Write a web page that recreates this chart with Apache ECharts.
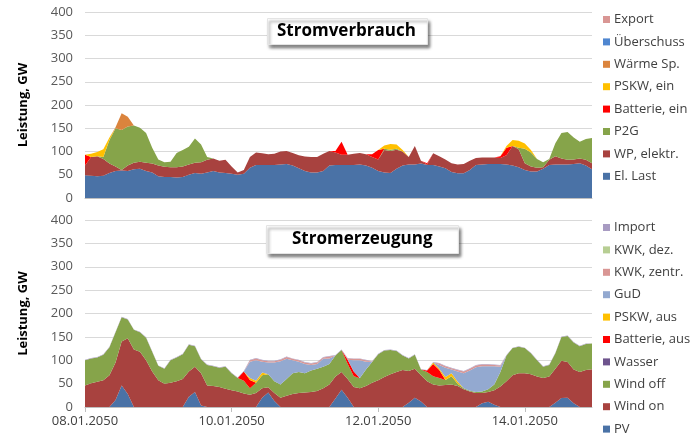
<!DOCTYPE html>
<html lang="de" style="height: 100%">
  <head>
    <meta charset="utf-8" />
    <title>Stromverbrauch / Stromerzeugung</title>
  </head>
  <body style="height: 100%; margin: 0">
    <div id="container" style="width: 700px; height: 443px"></div>

    <script
      type="text/javascript"
      src="https://cdn.jsdelivr.net/npm/echarts@6/dist/echarts.min.js"
    ></script>

    <script type="text/javascript">
      // hours since 08.01.2050 00:00, every 2 h
      var hours = [
        0, 2, 4, 6, 8, 10, 12, 14, 16, 18, 20, 22, 24, 26, 28, 30, 32, 34, 36, 38,
        40, 42, 44, 46, 48, 50, 52, 54, 56, 58, 60, 62, 64, 66, 68, 70, 72, 74, 76, 78,
        80, 82, 84, 86, 88, 90, 92, 94, 96, 98, 100, 102, 104, 106, 108, 110, 112, 114, 116, 118,
        120, 122, 124, 126, 128, 130, 132, 134, 136, 138, 140, 142, 144, 146, 148, 150, 152, 154, 156, 158,
        160, 162, 164, 166
      ];
      var dayLabels = ["08.01.2050", "10.01.2050", "12.01.2050", "14.01.2050"];

      // Stromverbrauch (GW)
      var elLast = [
        49, 48, 47, 48, 54, 58, 59, 58, 62, 63,
        58, 55, 47, 45, 45, 44, 45, 50, 54, 52,
        55, 58, 55, 54, 52, 50, 52, 65, 71, 71,
        71, 71, 72, 73, 70, 64, 58, 55, 55, 58,
        70, 71, 71, 71, 71, 72, 70, 65, 58, 55,
        54, 63, 70, 72, 72, 74, 71, 71, 68, 64,
        56, 53, 53, 60, 71, 72, 73, 73, 73, 72,
        70, 66, 60, 57, 57, 63, 71, 72, 72, 72,
        73, 75, 70, 62
      ];
      var wpElektr = [
        21, 40, 43, 36, 20, 10, 1, 12, 14, 15,
        18, 19, 23, 22, 21, 22, 23, 22, 22, 25,
        27, 27, 25, 28, 16, 5, 8, 23, 27, 25,
        23, 24, 28, 28, 27, 28, 31, 33, 33, 37,
        31, 27, 22, 22, 24, 25, 24, 23, 25, 48,
        47, 41, 30, 16, 40, 6, 1, 25, 22, 19,
        19, 19, 20, 20, 15, 15, 14, 14, 13, 20,
        42, 39, 15, 11, 8, 3, 11, 18, 13, 10,
        10, 10, 12, 13
      ];
      var p2g = [
        0, 0, 0, 4, 51, 82, 86, 84, 80, 73,
        64, 34, 13, 10, 12, 31, 35, 38, 52, 38,
        6, 0, 0, 0, 0, 0, 0, 0, 0, 0,
        0, 0, 0, 0, 0, 0, 0, 0, 0, 0,
        0, 0, 0, 0, 0, 0, 0, 0, 0, 3,
        3, 2, 0, 0, 0, 0, 0, 0, 0, 0,
        0, 0, 0, 0, 0, 0, 0, 0, 0, 0,
        0, 3, 31, 30, 19, 11, 2, 28, 55, 60,
        47, 36, 45, 54
      ];
      var batterieEin = [
        23, 0, 0, 0, 0, 0, 0, 0, 0, 0,
        0, 0, 0, 0, 0, 0, 0, 0, 0, 0,
        0, 0, 0, 0, 0, 0, 0, 0, 0, 0,
        0, 0, 0, 0, 0, 0, 0, 0, 0, 0,
        0, 3, 28, 0, 0, 0, 0, 6, 20, 0,
        0, 0, 0, 0, 0, 0, 3, 0, 0, 0,
        0, 0, 0, 0, 0, 0, 0, 0, 4, 16,
        0, 0, 0, 0, 0, 0, 0, 0, 0, 0,
        0, 0, 0, 0
      ];
      var pskwEin = [
        0, 7, 9, 17, 5, 0, 0, 0, 0, 0,
        0, 0, 0, 0, 0, 0, 0, 0, 0, 0,
        0, 0, 0, 0, 0, 0, 0, 0, 0, 0,
        0, 0, 0, 0, 0, 0, 0, 0, 0, 0,
        0, 0, 0, 0, 0, 0, 0, 0, 0, 7,
        12, 9, 3, 0, 0, 0, 0, 0, 0, 0,
        0, 0, 0, 0, 0, 0, 0, 0, 0, 4,
        13, 15, 11, 5, 0, 0, 0, 0, 0, 0,
        0, 0, 0, 0
      ];
      var waermeSp = [
        0, 0, 0, 0, 0, 2, 36, 21, 0, 0,
        0, 0, 0, 0, 0, 0, 0, 0, 0, 0,
        0, 0, 0, 0, 0, 0, 0, 0, 0, 0,
        0, 0, 0, 0, 0, 0, 0, 0, 0, 0,
        0, 0, 0, 0, 0, 0, 0, 0, 0, 0,
        0, 0, 0, 0, 0, 0, 0, 0, 0, 0,
        0, 0, 0, 0, 0, 0, 0, 0, 0, 0,
        0, 0, 0, 0, 0, 0, 0, 0, 0, 0,
        0, 0, 0, 0
      ];
      var ueberschuss = hours.map(function () { return 0; });
      var exportV = hours.map(function () { return 0; });

      // Stromerzeugung (GW)
      var pv = [
        0, 0, 0, 0, 0, 15, 46, 28, 0, 0,
        0, 0, 0, 0, 0, 0, 0, 22, 32, 3,
        0, 0, 0, 0, 0, 0, 0, 0, 0, 20,
        31, 13, 0, 0, 0, 0, 0, 0, 0, 0,
        0, 18, 37, 20, 0, 0, 0, 0, 0, 0,
        0, 0, 0, 9, 20, 12, 0, 0, 0, 0,
        0, 0, 0, 0, 0, 8, 11, 5, 0, 0,
        0, 0, 0, 0, 0, 0, 0, 9, 19, 20,
        8, 0, 0, 0
      ];
      var windOn = [
        46, 51, 54, 57, 68, 80, 94, 119, 123, 118,
        100, 76, 57, 50, 52, 55, 60, 54, 54, 69,
        46, 45, 43, 39, 36, 33, 29, 26, 30, 20,
        11, 17, 20, 24, 28, 30, 31, 32, 34, 40,
        48, 47, 38, 40, 43, 40, 45, 52, 57, 64,
        70, 75, 79, 68, 62, 56, 55, 48, 46, 47,
        48, 45, 38, 33, 30, 22, 21, 31, 44, 55,
        68, 72, 72, 70, 65, 62, 65, 73, 80, 76,
        72, 75, 79, 81
      ];
      var windOff = [
        54, 53, 52, 55, 60, 65, 52, 40, 42, 42,
        48, 42, 31, 32, 48, 51, 53, 57, 44, 30,
        44, 42, 41, 47, 36, 29, 27, 14, 22, 28,
        28, 25, 28, 36, 44, 45, 41, 46, 48, 46,
        44, 45, 47, 32, 23, 22, 35, 44, 56, 57,
        52, 45, 31, 27, 30, 12, 20, 18, 16, 11,
        18, 5, 2, 2, 2, 3, 6, 12, 31, 55,
        58, 57, 54, 45, 35, 24, 25, 33, 51, 56,
        58, 55, 56, 55
      ];
      var wasser = hours.map(function () { return 0; });
      var batterieAus = [
        0, 0, 0, 0, 0, 0, 0, 0, 0, 0,
        0, 0, 0, 0, 0, 0, 0, 0, 0, 0,
        0, 0, 0, 0, 0, 0, 20, 18, 0, 0,
        0, 0, 0, 0, 0, 0, 0, 0, 0, 0,
        0, 0, 0, 9, 10, 0, 0, 0, 0, 0,
        0, 0, 0, 0, 0, 0, 3, 26, 17, 0,
        0, 0, 0, 0, 0, 0, 0, 0, 0, 0,
        0, 0, 0, 0, 0, 0, 0, 0, 0, 0,
        0, 0, 0, 0
      ];
      var pskwAus = [
        0, 0, 0, 0, 0, 0, 0, 0, 0, 0,
        0, 0, 0, 0, 0, 0, 0, 0, 0, 0,
        0, 0, 0, 0, 0, 0, 0, 4, 4, 6,
        0, 0, 0, 0, 0, 0, 0, 0, 0, 0,
        0, 0, 0, 0, 0, 0, 0, 0, 0, 0,
        0, 0, 0, 0, 0, 0, 0, 3, 3, 6,
        6, 4, 0, 0, 0, 0, 0, 0, 0, 0,
        0, 0, 0, 0, 0, 0, 0, 0, 0, 0,
        0, 0, 0, 0
      ];
      var gud = [
        0, 0, 0, 0, 0, 0, 0, 0, 0, 0,
        0, 0, 0, 0, 0, 0, 0, 0, 0, 0,
        0, 0, 0, 0, 0, 0, 0, 35, 44, 23,
        25, 40, 50, 43, 28, 22, 20, 12, 10, 17,
        12, 0, 0, 0, 24, 38, 17, 0, 0, 0,
        0, 0, 0, 0, 0, 0, 0, 0, 8, 20,
        8, 22, 32, 43, 53, 54, 49, 39, 11, 0,
        0, 0, 0, 0, 0, 0, 0, 0, 0, 0,
        0, 0, 0, 0
      ];
      var kwkZentr = [
        0, 0, 0, 0, 0, 0, 0, 0, 0, 0,
        0, 0, 0, 0, 0, 0, 0, 0, 0, 0,
        0, 0, 0, 0, 0, 0, 0, 3, 4, 3,
        3, 3, 3, 4, 3, 3, 3, 3, 3, 3,
        4, 0, 0, 3, 3, 3, 3, 1, 0, 0,
        0, 0, 0, 0, 0, 0, 0, 0, 3, 3,
        3, 3, 4, 4, 4, 4, 4, 3, 3, 0,
        0, 0, 0, 0, 0, 0, 0, 0, 0, 0,
        0, 0, 0, 0
      ];
      var kwkDez = hours.map(function () { return 0; });
      var importV = hours.map(function () { return 1; });

      var dom = document.getElementById("container");
      var myChart = echarts.init(dom, null, { renderer: "canvas" });
      var FONT = "Open Sans";

      function area(name, data, color, idx) {
        return {
          name: name,
          type: "line",
          xAxisIndex: idx,
          yAxisIndex: idx,
          stack: "s" + idx,
          data: data,
          symbol: "none",
          lineStyle: { width: 0 },
          itemStyle: { color: color },
          areaStyle: { color: color, opacity: 1 },
          emphasis: { disabled: true },
          silent: true,
        };
      }

      var topSeries = [
        area("El. Last", elLast, "#4A72A6", 0),
        area("WP, elektr.", wpElektr, "#A8423F", 0),
        area("P2G", p2g, "#86A44A", 0),
        area("Batterie, ein", batterieEin, "#FF0000", 0),
        area("PSKW, ein", pskwEin, "#FFC000", 0),
        area("Wärme Sp.", waermeSp, "#DB843D", 0),
        area("Überschuss", ueberschuss, "#4F86D0", 0),
        area("Export", exportV, "#D99694", 0),
      ];
      var bottomSeries = [
        area("PV", pv, "#4A72A6", 1),
        area("Wind on", windOn, "#A8423F", 1),
        area("Wind off", windOff, "#86A44A", 1),
        area("Wasser", wasser, "#6E548D", 1),
        area("Batterie, aus", batterieAus, "#FF0000", 1),
        area("PSKW, aus", pskwAus, "#FFC000", 1),
        area("GuD", gud, "#93A9D0", 1),
        area("KWK, zentr.", kwkZentr, "#D99694", 1),
        area("KWK, dez.", kwkDez, "#B7CE93", 1),
        area("Import", importV, "#A89BC2", 1),
      ];

      function yAxis(idx) {
        return {
          type: "value",
          gridIndex: idx,
          min: 0,
          max: 400,
          interval: 50,
          name: "Leistung, GW",
          nameLocation: "middle",
          nameGap: 55,
          nameTextStyle: { fontFamily: FONT, fontSize: 13, fontWeight: "bold", color: "#000" },
          axisLine: { show: false },
          axisTick: { show: false },
          axisLabel: { fontFamily: FONT, fontSize: 13, color: "#595959", margin: 12 },
          splitLine: { lineStyle: { color: "#D9D9D9", width: 1 } },
        };
      }

      function legend(series, top) {
        return {
          orient: "vertical",
          left: 603,
          top: top,
          padding: 0,
          itemWidth: 7,
          itemHeight: 7,
          itemGap: 9.4,
          icon: "rect",
          selectedMode: false,
          textStyle: { fontFamily: FONT, fontSize: 13, color: "#404040", padding: [0, 0, 0, -1] },
          data: series.map(function (s) { return s.name; }).reverse(),
        };
      }

      function titleBox(text, left, top, padding) {
        return {
          text: text,
          left: left,
          top: top,
          padding: padding,
          backgroundColor: "#fff",
          borderColor: "#E4E4E4",
          borderWidth: 1,
          shadowColor: "rgba(0,0,0,0.5)",
          shadowBlur: 3,
          shadowOffsetX: 2,
          shadowOffsetY: 3,
          textStyle: { fontFamily: FONT, fontSize: 17, fontWeight: "bold", color: "#000" },
        };
      }

      var option = {
        animation: false,
        backgroundColor: "#fff",
        title: [
          titleBox("Stromverbrauch", 267, 18, [5, 12, 5, 10]),
          titleBox("Stromerzeugung", 266, 225, [6, 26, 6, 26]),
        ],
        legend: [legend(topSeries, 13), legend(bottomSeries, 221)],
        grid: [
          { left: 85, right: 108, top: 12, height: 186 },
          { left: 85, right: 108, top: 220, height: 187 },
        ],
        xAxis: [
          {
            type: "category",
            gridIndex: 0,
            data: hours,
            boundaryGap: false,
            axisLine: { lineStyle: { color: "#BFBFBF" } },
            axisTick: { show: false },
            axisLabel: { show: false },
          },
          {
            type: "category",
            gridIndex: 1,
            data: hours,
            boundaryGap: false,
            axisLine: { lineStyle: { color: "#BFBFBF" } },
            axisTick: { show: true, interval: 23, length: 5, lineStyle: { color: "#BFBFBF" } },
            axisLabel: {
              interval: 23,
              margin: 8,
              fontFamily: FONT,
              fontSize: 13,
              color: "#404040",
              formatter: function (v, i) {
                return i % 24 === 0 ? dayLabels[i / 24] : "";
              },
            },
          },
        ],
        yAxis: [yAxis(0), yAxis(1)],
        series: topSeries.concat(bottomSeries),
      };

      myChart.setOption(option);
      window.addEventListener("resize", myChart.resize);
    </script>
  </body>
</html>
